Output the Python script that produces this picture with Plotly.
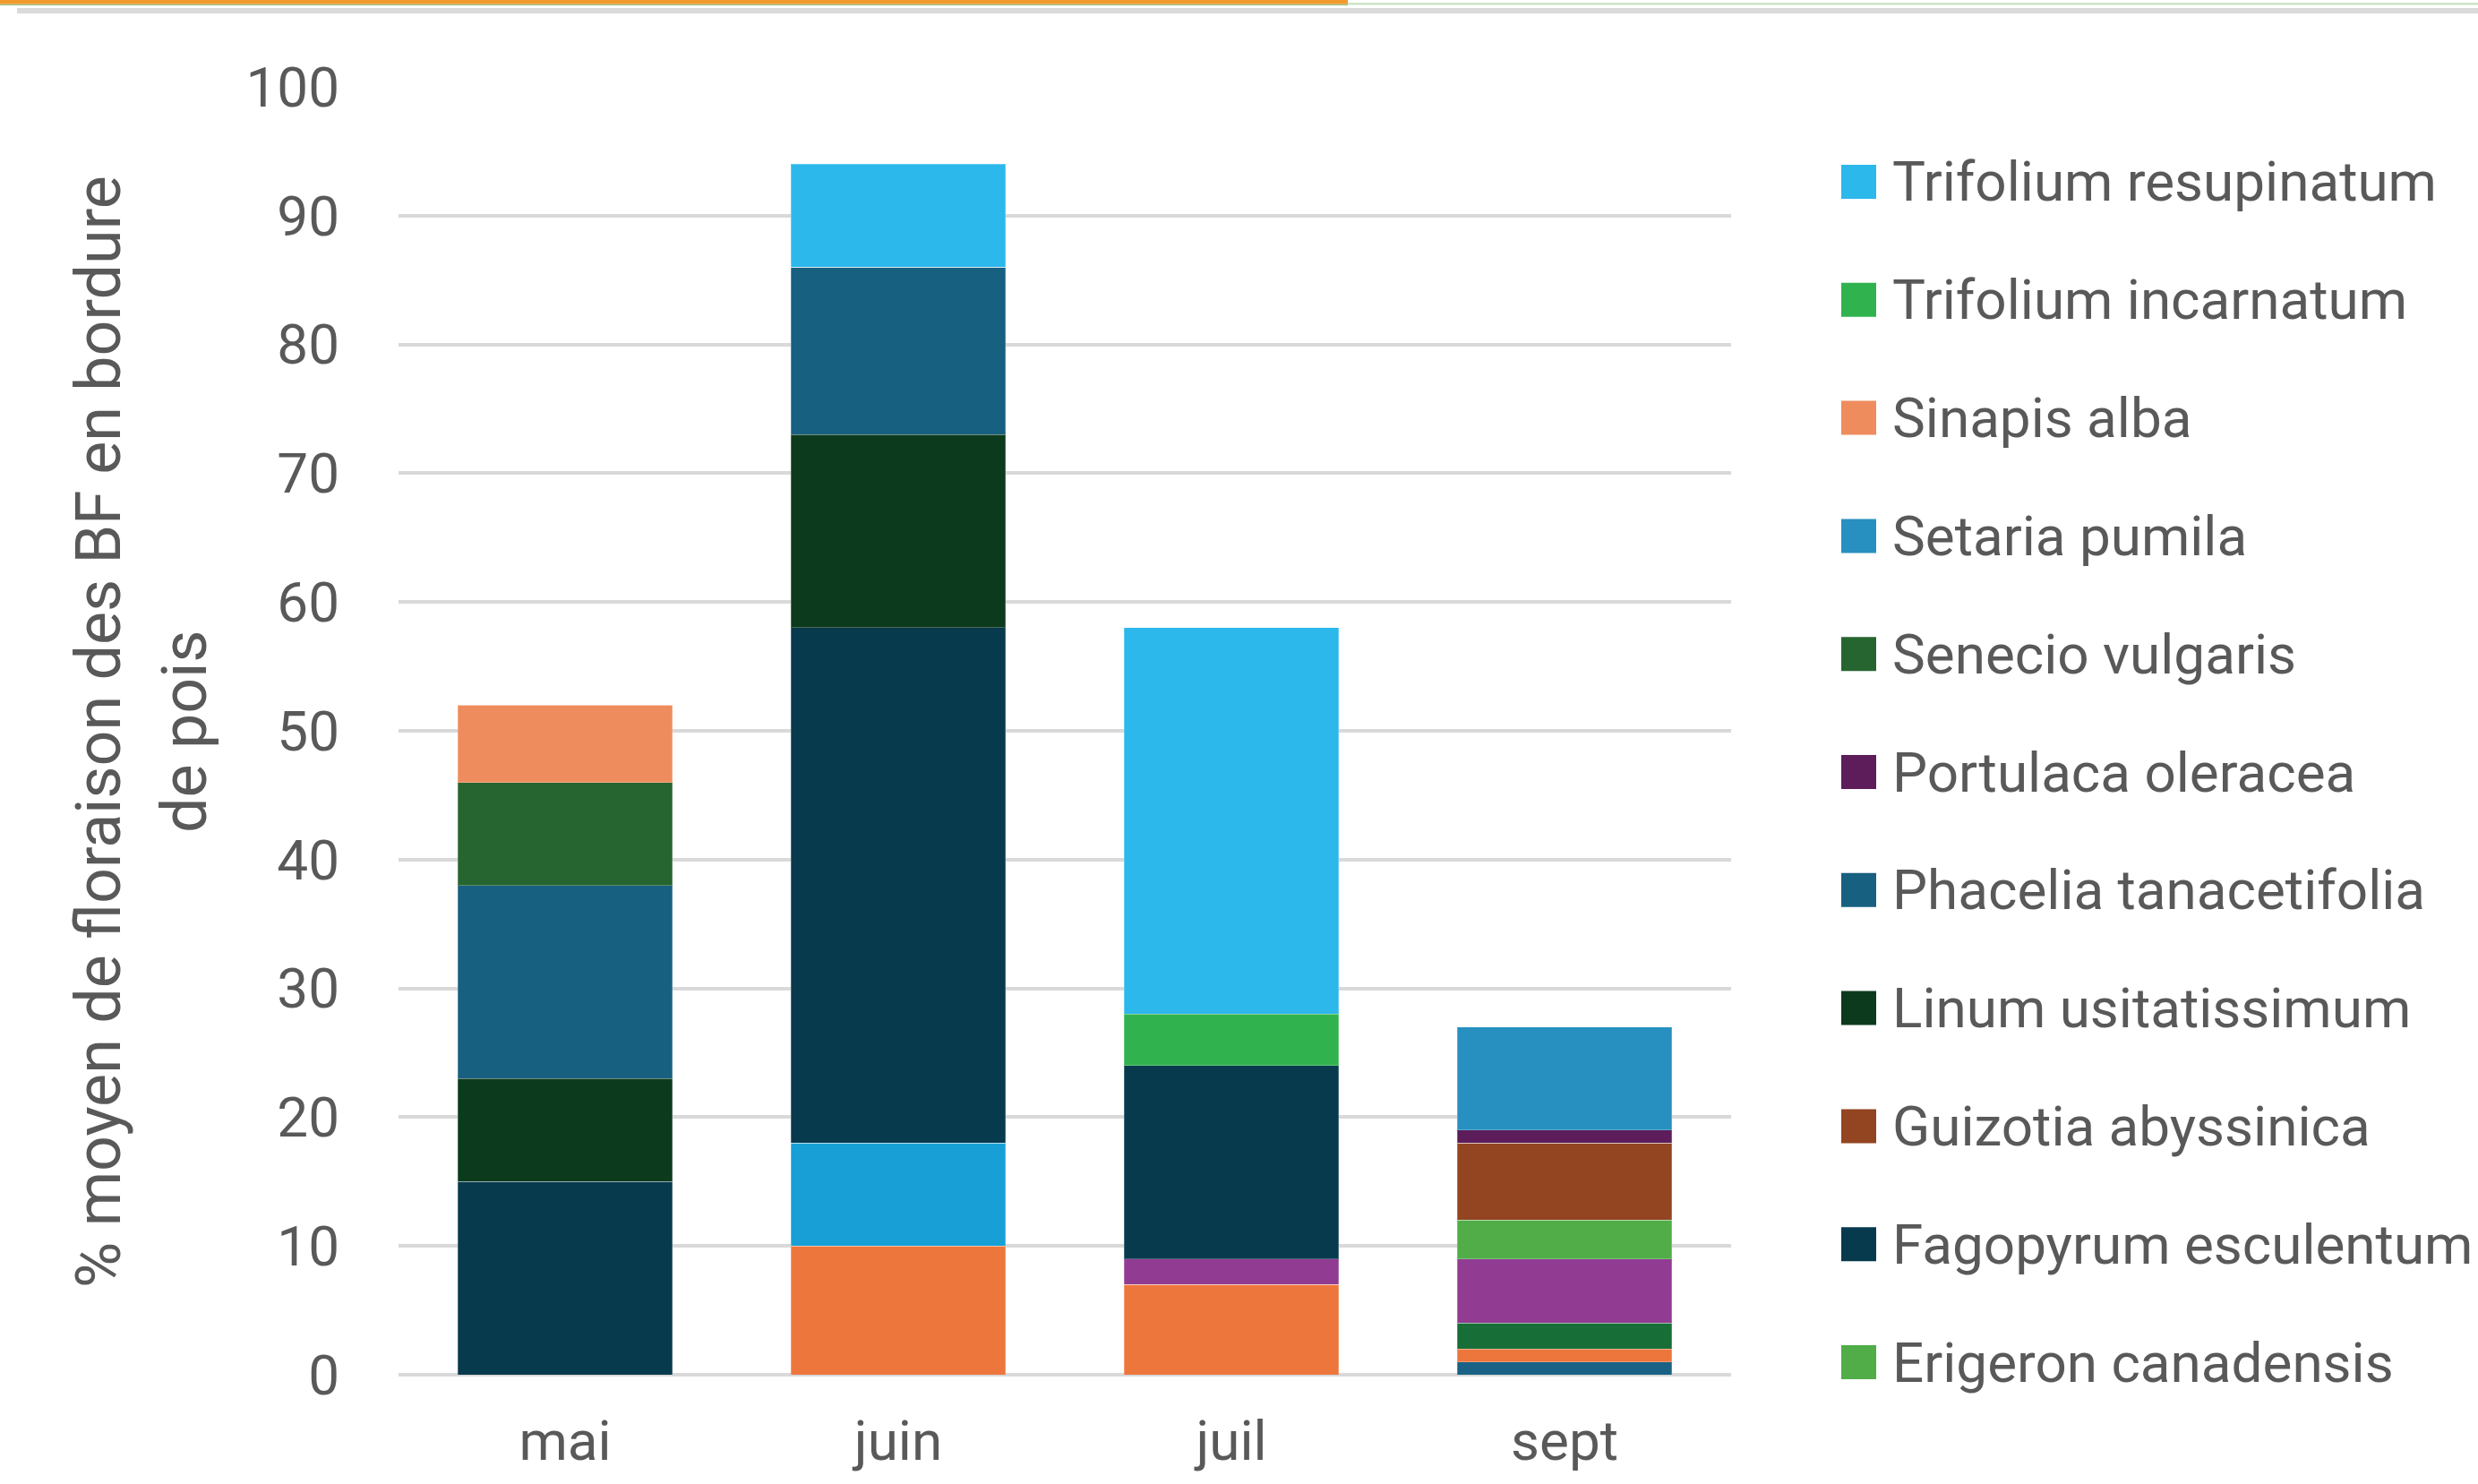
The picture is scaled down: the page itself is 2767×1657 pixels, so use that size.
import plotly.graph_objects as go

# ---------------- data ----------------
months = ["mai", "juin", "juil", "sept"]

# series in stacking order (bottom -> top); the first five are not visible in the (truncated) legend
species = [
    "Espèce 1", "Espèce 2", "Espèce 3", "Espèce 4", "Espèce 5",
    "Erigeron canadensis", "Fagopyrum esculentum", "Guizotia abyssinica",
    "Linum usitatissimum", "Phacelia tanacetifolia", "Portulaca oleracea",
    "Senecio vulgaris", "Setaria pumila", "Sinapis alba",
    "Trifolium incarnatum", "Trifolium resupinatum",
]
in_legend = [False] * 5 + [True] * 11

espece_1 = [0, 0, 0, 1]
espece_2 = [0, 10, 7, 1]
espece_3 = [0, 0, 0, 2]
espece_4 = [0, 8, 0, 0]
espece_5 = [0, 0, 2, 5]
erigeron_canadensis = [0, 0, 0, 3]
fagopyrum_esculentum = [15, 40, 15, 0]
guizotia_abyssinica = [0, 0, 0, 6]
linum_usitatissimum = [8, 15, 0, 0]
phacelia_tanacetifolia = [15, 13, 0, 0]
portulaca_oleracea = [0, 0, 0, 1]
senecio_vulgaris = [8, 0, 0, 0]
setaria_pumila = [0, 0, 0, 8]
sinapis_alba = [6, 0, 0, 0]
trifolium_incarnatum = [0, 0, 4, 0]
trifolium_resupinatum = [0, 8, 30, 0]

values = [
    espece_1, espece_2, espece_3, espece_4, espece_5,
    erigeron_canadensis, fagopyrum_esculentum, guizotia_abyssinica,
    linum_usitatissimum, phacelia_tanacetifolia, portulaca_oleracea,
    senecio_vulgaris, setaria_pumila, sinapis_alba,
    trifolium_incarnatum, trifolium_resupinatum,
]

colors = [
    "#1A6285", "#ED763D", "#176E37", "#18A0D6", "#913C92",
    "#50AD48", "#083A4E", "#934421", "#0C3A1C", "#186080",
    "#5C1D5A", "#276530", "#2790C0", "#EE8C5E", "#30B34E", "#2DB8EB",
]

y_ticks = list(range(0, 101, 10))
y_title_lines = ["% moyen de floraison des BF en bordure", "de pois"]

# ---------------- layout geometry (screen pixels) ----------------
W, H = 2767, 1657
PL, PR, PT, PB = 445, 1933, 97, 1535
FONT = "Roboto"
TXT = "#595959"


def px_x(px):
    return (px - PL) / (PR - PL)


def px_y(py):
    return (PB - py) / (PB - PT)


fig = go.Figure()
for name, vals, col in zip(species, values, colors):
    fig.add_trace(go.Bar(
        x=months, y=vals, name=name,
        marker=dict(color=col, line=dict(width=1, color="rgba(255,255,255,0.25)")),
        showlegend=False,
    ))

shapes = []
annotations = []

# manual legend (large square keys as in the original), top = last series
legend_items = [(n, c) for n, c, s in zip(species, colors, in_legend) if s][::-1]
row0, step = 203, 131.8
for i, (name, col) in enumerate(legend_items):
    cy = row0 + i * step
    shapes.append(dict(type="rect", xref="paper", yref="paper",
                       x0=px_x(2056), x1=px_x(2095),
                       y0=px_y(cy + 19), y1=px_y(cy - 19),
                       fillcolor=col, line=dict(width=0)))
    annotations.append(dict(text=name, xref="paper", yref="paper",
                            x=px_x(2111), y=px_y(cy), xanchor="left", yanchor="middle",
                            showarrow=False, font=dict(family=FONT, size=62, color=TXT)))

# axis title (two lines)
for line, cx in zip(y_title_lines, [110, 206]):
    annotations.append(dict(text=line, xref="paper", yref="paper",
                            x=px_x(cx), y=px_y(817), xanchor="center", yanchor="middle",
                            textangle=-90, showarrow=False,
                            font=dict(family=FONT, size=70, color=TXT)))

# slide decoration at the top
shapes += [
    dict(type="rect", xref="paper", yref="paper", x0=px_x(0), x1=px_x(1505),
         y0=px_y(4.5), y1=px_y(0), fillcolor="#F39A2E", line=dict(width=0)),
    dict(type="rect", xref="paper", yref="paper", x0=px_x(0), x1=px_x(1505),
         y0=px_y(6), y1=px_y(4.5), fillcolor="#A9B86A", line=dict(width=0)),
    dict(type="rect", xref="paper", yref="paper", x0=px_x(1505), x1=px_x(W),
         y0=px_y(5.5), y1=px_y(3), fillcolor="#CDE4C4", line=dict(width=0)),
    dict(type="rect", xref="paper", yref="paper", x0=px_x(19), x1=px_x(W),
         y0=px_y(15), y1=px_y(9), fillcolor="#DADADA", line=dict(width=0)),
]

fig.update_layout(
    width=W, height=H,
    margin=dict(l=PL, r=W - PR, t=PT, b=H - PB, pad=0, autoexpand=False),
    barmode="stack", bargap=0.357,
    paper_bgcolor="white", plot_bgcolor="white",
    font=dict(family=FONT, size=60, color=TXT),
    showlegend=False,
    shapes=shapes, annotations=annotations,
    xaxis=dict(showgrid=False, showline=False, zeroline=False, ticks="", automargin=False,
               tickfont=dict(family=FONT, size=62, color=TXT), ticklabelstandoff=32),
    yaxis=dict(range=[0, 100], tickvals=y_ticks, showgrid=True, gridcolor="#D9D9D9",
               gridwidth=4, zeroline=True, zerolinecolor="#D9D9D9", zerolinewidth=4,
               showline=False, ticks="", automargin=False,
               tickfont=dict(family=FONT, size=62, color=TXT), ticklabelstandoff=65),
)

fig.write_html("out.html", config={"displayModeBar": False},
               post_script="document.body.style.margin='0';")
